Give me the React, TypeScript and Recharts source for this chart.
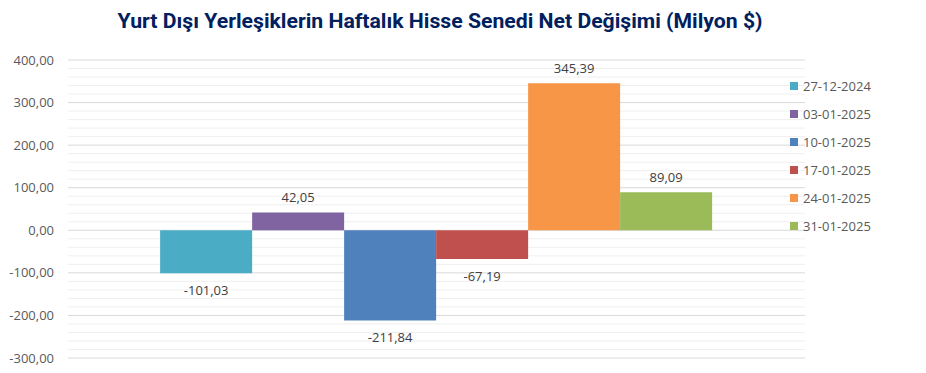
import { Bar, BarChart, CartesianGrid, LabelList, XAxis, YAxis } from 'recharts'

const WEEKS = ['27-12-2024', '03-01-2025', '10-01-2025', '17-01-2025', '24-01-2025', '31-01-2025']
const NET_CHANGE = [-101.03, 42.05, -211.84, -67.19, 345.39, 89.09]
const COLORS = ['#4BACC6', '#8064A2', '#4F81BD', '#C0504D', '#F79646', '#9BBB59']
const Y_TICKS = [-300, -200, -100, 0, 100, 200, 300, 400]
const MINOR_GRID = [
  -280, -260, -240, -220, -180, -160, -140, -120, -80, -60, -40, -20, 20, 40, 60, 80, 120, 140, 160, 180, 220,
  240, 260, 280, 320, 340, 360, 380
]

const TITLE = 'Yurt Dışı Yerleşiklerin Haftalık Hisse Senedi Net Değişimi (Milyon $)'
const FONT = '"Open Sans", "Liberation Sans", sans-serif'

function formatTr(value: number): string {
  return value.toFixed(2).replace('.', ',')
}

const row: Record<string, number | string> = { name: '' }
WEEKS.forEach((week, index) => {
  row[week] = NET_CHANGE[index]
})
const chartData = [row]

function renderValueLabel(props: any) {
  const { x, y, width, height, value } = props
  const top = Math.min(y, y + height)
  const bottom = Math.max(y, y + height)
  const cx = x + width / 2
  const ty = value >= 0 ? top - 15 : bottom + 17
  return (
    <text x={cx} y={ty} textAnchor="middle" dominantBaseline="central" fontSize={13} fill="#404040" fontFamily={FONT}>
      {formatTr(value)}
    </text>
  )
}

function WeekLegend() {
  return (
    <div
      style={{
        position: 'absolute',
        left: 790,
        top: 72,
        fontFamily: FONT,
        fontSize: 13,
        color: '#595959'
      }}
    >
      {WEEKS.map((week, index) => (
        <div key={week} style={{ display: 'flex', alignItems: 'center', height: 28 }}>
          <span style={{ width: 8, height: 8, background: COLORS[index], marginRight: 5, display: 'inline-block' }} />
          <span>{week}</span>
        </div>
      ))}
    </div>
  )
}

export default function App() {
  return (
    <div style={{ position: 'absolute', left: 0, top: 0, width: 926, height: 373, background: '#fff' }}>
      <svg width={926} height={40} style={{ position: 'absolute', left: 0, top: 0 }}>
        <text
          x={440}
          y={28}
          textAnchor="middle"
          fontSize={21}
          fontWeight="bold"
          fill="#002060"
          fontFamily='"Liberation Sans Narrow", Roboto, sans-serif'
          textLength={645}
          lengthAdjust="spacingAndGlyphs"
        >
          {TITLE}
        </text>
      </svg>
      <BarChart
        width={926}
        height={373}
        data={chartData}
        margin={{ top: 60, right: 121, bottom: 15, left: 8 }}
        barGap={0}
        barCategoryGap="12.5%"
      >
        <CartesianGrid vertical={false} horizontalValues={MINOR_GRID} stroke="#efefef" />
        <CartesianGrid vertical={false} horizontalValues={Y_TICKS} stroke="#d9d9d9" />
        <XAxis dataKey="name" hide />
        <YAxis
          width={60}
          domain={[-300, 400]}
          ticks={Y_TICKS}
          tickFormatter={formatTr}
          axisLine={false}
          tickLine={false}
          tickSize={0}
          tickMargin={14}
          tick={{ fontSize: 13, fill: '#595959', fontFamily: FONT }}
          interval={0}
        />
        {WEEKS.map((week, index) => (
          <Bar key={week} dataKey={week} fill={COLORS[index]} isAnimationActive={false}>
            <LabelList dataKey={week} content={renderValueLabel} />
          </Bar>
        ))}
      </BarChart>
      <WeekLegend />
    </div>
  )
}
